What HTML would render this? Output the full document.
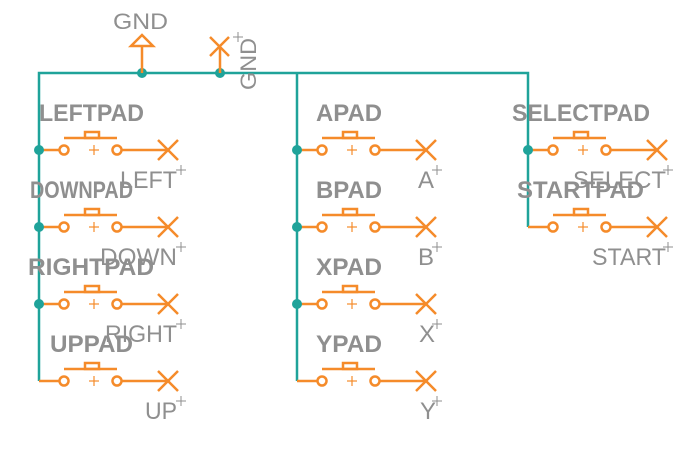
<!DOCTYPE html>
<html><head><meta charset="utf-8"><style>
html,body{margin:0;padding:0;background:#fff;}
svg{display:block;}
.b{font-family:"Liberation Sans",sans-serif;font-weight:bold;font-size:24px;fill:#8f8f8f;}
.n{font-family:"Liberation Sans",sans-serif;font-size:24px;fill:#8f8f8f;}
</style></head><body>
<svg width="700" height="476" viewBox="0 0 700 476" xmlns="http://www.w3.org/2000/svg">
<defs>
<g id="sw" fill="none" stroke="#f58b2a" stroke-width="2.5">
<line x1="0" y1="0" x2="21" y2="0"/>
<circle cx="25" cy="0" r="4.5" fill="#fff"/>
<circle cx="78" cy="0" r="4.5" fill="#fff"/>
<line x1="82.5" y1="0" x2="129" y2="0"/>
<line x1="50" y1="0" x2="60" y2="0" stroke-width="1.2"/>
<line x1="55" y1="-5" x2="55" y2="5" stroke-width="1.2"/>
<line x1="25" y1="-12" x2="78" y2="-12"/>
<rect x="46" y="-18" width="14" height="6"/>
<line x1="119" y1="-10" x2="139" y2="10"/>
<line x1="119" y1="10" x2="139" y2="-10"/>
</g>
<g id="pl" stroke="#8f8f8f" stroke-width="1" fill="none">
<line x1="-5" y1="0" x2="5" y2="0"/><line x1="0" y1="-5" x2="0" y2="5"/>
</g>
</defs>
<g stroke="#1fa39a" stroke-width="2.5" fill="none">
<polyline points="39,381 39,73 528,73 528,227"/>
<line x1="297" y1="73" x2="297" y2="381"/>
</g>
<use href="#sw" x="39" y="150"/><use href="#sw" x="39" y="227"/><use href="#sw" x="39" y="304"/><use href="#sw" x="39" y="381"/>
<use href="#sw" x="297" y="150"/><use href="#sw" x="297" y="227"/><use href="#sw" x="297" y="304"/><use href="#sw" x="297" y="381"/>
<use href="#sw" x="528" y="150"/><use href="#sw" x="528" y="227"/>
<g fill="#1fa39a">
<circle cx="39" cy="150" r="5"/><circle cx="39" cy="227" r="5"/><circle cx="39" cy="304" r="5"/>
<circle cx="297" cy="150" r="5"/><circle cx="297" cy="227" r="5"/><circle cx="297" cy="304" r="5"/>
<circle cx="528" cy="150" r="5"/>
<circle cx="142" cy="73" r="5"/><circle cx="220" cy="73" r="5"/>
</g>
<g stroke="#f58b2a" stroke-width="2.5" fill="none">
<line x1="142" y1="73" x2="142" y2="46"/>
<polygon points="131,46 142,35 153,46"/>
<line x1="220" y1="73" x2="220" y2="47"/>
<line x1="210" y1="37" x2="229" y2="56"/>
<line x1="210" y1="56" x2="229" y2="37"/>
</g>
<text class="n" x="113" y="29" font-size="22" textLength="55" lengthAdjust="spacingAndGlyphs" style="font-size:22px">GND</text>
<text class="n" transform="translate(256,90) rotate(-90)" x="0" y="0" textLength="52" lengthAdjust="spacingAndGlyphs" style="font-size:22px">GND</text>
<text class="b" x="39" y="121" textLength="105" lengthAdjust="spacingAndGlyphs">LEFTPAD</text>
<text class="b" x="30" y="198" textLength="103" lengthAdjust="spacingAndGlyphs">DOWNPAD</text>
<text class="b" x="28" y="275" textLength="126" lengthAdjust="spacingAndGlyphs">RIGHTPAD</text>
<text class="b" x="50" y="352" textLength="83" lengthAdjust="spacingAndGlyphs">UPPAD</text>
<text class="b" x="316" y="121" textLength="66" lengthAdjust="spacingAndGlyphs">APAD</text>
<text class="b" x="316" y="198" textLength="66" lengthAdjust="spacingAndGlyphs">BPAD</text>
<text class="b" x="316" y="275" textLength="66" lengthAdjust="spacingAndGlyphs">XPAD</text>
<text class="b" x="316" y="352" textLength="66" lengthAdjust="spacingAndGlyphs">YPAD</text>
<text class="b" x="512" y="121" textLength="138" lengthAdjust="spacingAndGlyphs">SELECTPAD</text>
<text class="b" x="517" y="198" textLength="127" lengthAdjust="spacingAndGlyphs">STARTPAD</text>
<text class="n" x="120" y="188" textLength="57" lengthAdjust="spacingAndGlyphs">LEFT</text>
<text class="n" x="100" y="265" textLength="77" lengthAdjust="spacingAndGlyphs">DOWN</text>
<text class="n" x="105" y="342" textLength="72" lengthAdjust="spacingAndGlyphs">RIGHT</text>
<text class="n" x="145" y="419" textLength="32" lengthAdjust="spacingAndGlyphs">UP</text>
<text class="n" x="418" y="188">A</text>
<text class="n" x="418" y="265">B</text>
<text class="n" x="419" y="342">X</text>
<text class="n" x="420" y="419">Y</text>
<text class="n" x="573" y="188" textLength="93" lengthAdjust="spacingAndGlyphs">SELECT</text>
<text class="n" x="592" y="265" textLength="74" lengthAdjust="spacingAndGlyphs">START</text>
<use href="#pl" x="181" y="170"/><use href="#pl" x="181" y="247"/><use href="#pl" x="181" y="324"/><use href="#pl" x="181" y="401"/>
<use href="#pl" x="437" y="170"/><use href="#pl" x="437" y="247"/><use href="#pl" x="437" y="324"/><use href="#pl" x="437" y="401"/>
<use href="#pl" x="668" y="170"/><use href="#pl" x="668" y="247"/>
<use href="#pl" x="238" y="37"/>
</svg>
</body></html>
